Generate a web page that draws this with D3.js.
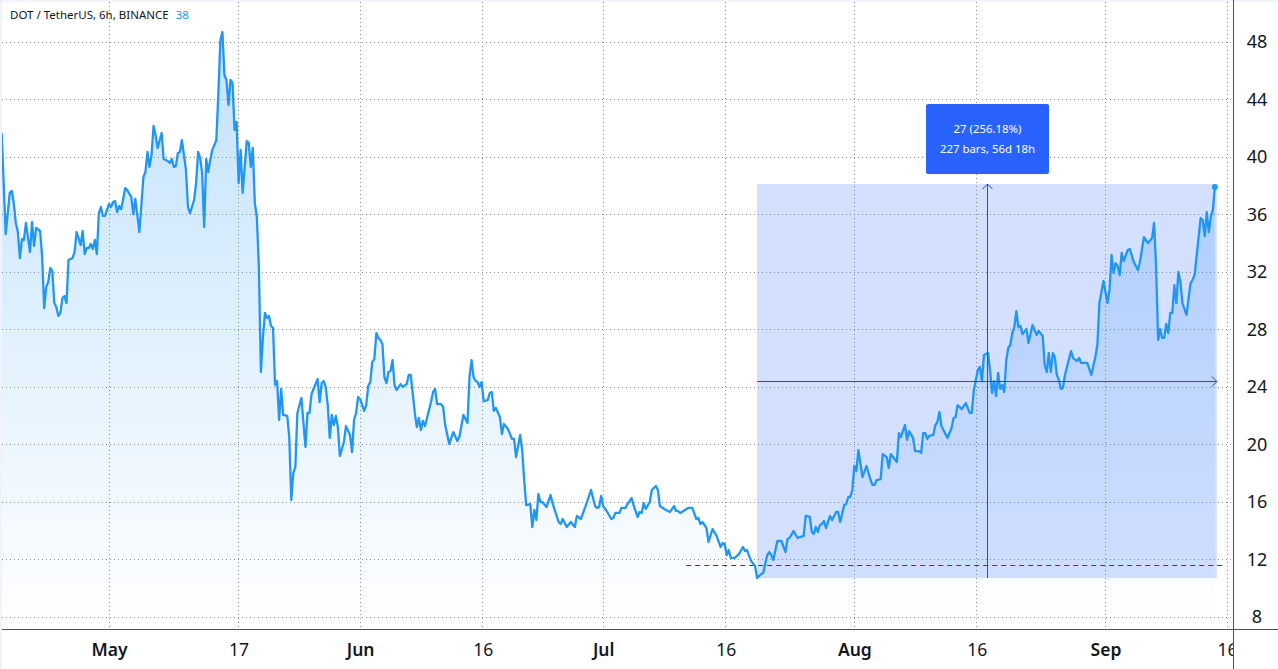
<!DOCTYPE html>
<html>
<head>
<meta charset="utf-8">
<title>DOT / TetherUS</title>
<script src="https://cdn.jsdelivr.net/npm/d3@7"></script>
<style>
    html, body { margin: 0; padding: 0; background: #fff; overflow: hidden; }
    text { font-family: "Noto Sans", sans-serif; fill: #131722; }
</style>
</head>
<body>
<div id="chart"></div>
<script>
// each pair is [bar number, close], one bar is 6h, bar 0 = 17 Apr 18:00
const aprilBars = [[0,41.68],[2,34.65],[4,37.51],[5,37.65],[6,36.81],[7,35.42],[8,34.79],[9,32.98],[10,34.30],[11,34.24],[12,35.42],[14,33.40],[15,35.49],[16,33.82],[17,35.07],[19,34.86],[20,33.05],[21,29.50],[22,30.96],[23,31.31],[24,32.29],[25,32.08],[26,29.85],[27,29.57],[28,28.95],[29,29.16],[30,30.20],[31,30.34],[32,29.85],[33,32.84],[35,32.98],[36,33.40],[37,34.79],[39,33.89],[40,34.86],[41,33.26],[42,33.68],[43,33.68],[44,33.96],[45,33.61],[46,34.24],[47,33.26],[48,36.11],[49,36.53],[50,35.91],[51,35.91]];
const mayBars = [[53,36.74],[54,36.53],[55,36.88],[56,36.95],[57,36.18],[58,36.60],[59,36.39],[60,37.09],[61,37.85],[62,37.71],[64,37.23],[65,36.04],[66,37.09],[68,34.79],[70,38.62],[71,38.97],[72,40.36],[73,39.32],[74,40.15],[75,42.17],[76,41.54],[77,40.64],[79,41.68],[80,39.87],[82,39.73],[83,39.59],[84,39.87],[85,39.32],[86,39.38],[87,40.29],[88,40.36],[89,41.19],[91,39.11],[92,36.53],[93,36.11],[95,37.02],[96,38.20],[97,40.36],[98,39.94],[99,38.90],[100,35.14],[101,39.87],[102,38.97],[103,39.80],[104,40.50],[106,41.19],[107,44.46],[108,48.15],[109,48.71],[110,45.72],[111,45.37],[112,43.63],[113,45.37],[114,45.16],[115,41.89],[116,42.45],[117,38.20],[118,40.50],[119,37.51],[121,41.12],[122,40.99],[123,39.32],[124,40.64],[125,36.81],[126,35.84],[127,32.36],[128,25.05],[129,27.48],[130,29.16],[131,28.81],[132,28.95],[133,28.25],[134,28.11],[135,24.14],[136,24.42],[137,21.71],[138,23.87],[139,22.06],[141,21.99],[142,20.53],[143,16.14],[144,18.02],[145,18.44],[146,22.20],[148,23.24],[150,19.83],[151,22.20],[152,22.20],[153,23.52],[154,23.87],[156,24.56],[157,22.96],[158,24.28],[159,24.42],[160,24.01],[161,22.75],[162,20.46],[163,22.06],[164,21.36],[165,21.99],[166,21.22],[167,19.20],[169,20.18],[170,21.29],[172,20.67],[173,19.48],[174,21.71],[175,22.20],[176,23.31]];
const juneBars = [[177,23.17],[179,22.34],[180,22.75],[181,24.08],[182,24.35],[183,25.75],[184,25.95],[185,27.76],[186,27.42],[187,27.28],[188,27.00],[189,24.70],[190,24.28],[191,25.05],[192,25.12],[193,25.88],[194,24.14],[195,23.80],[197,24.21],[198,24.01],[200,24.21],[201,24.84],[202,24.84],[204,22.20],[205,21.22],[206,21.85],[207,21.01],[208,21.64],[209,21.29],[212,22.96],[213,23.66],[214,23.87],[215,22.82],[217,22.82],[218,22.61],[219,21.36],[221,20.04],[223,20.87],[225,20.25],[226,20.53],[228,22.06],[230,21.50],[231,24.70],[232,25.88],[233,24.70],[234,24.42],[235,24.35],[236,24.01],[237,24.35],[238,23.03],[240,23.10],[241,23.59],[242,23.66],[243,22.34],[244,22.54],[246,21.92],[247,20.73],[248,21.43],[250,21.08],[252,20.39],[253,20.39],[254,19.13],[256,20.67],[257,19.62],[258,17.53],[259,15.79],[261,15.86],[262,14.26],[263,15.45],[264,14.75],[265,16.56],[266,16.00],[267,16.00],[269,15.65],[271,16.49],[272,15.93],[275,14.61],[276,14.47],[277,14.82],[279,14.26],[281,14.61],[283,14.26],[284,15.03],[286,14.82],[289,16.00],[291,16.84],[293,15.72],[294,15.59],[295,15.65],[296,16.42]];
const julyBars = [[297,15.72],[299,15.31],[301,14.82],[302,14.89],[303,15.24],[305,15.24],[306,15.59],[308,15.59],[309,15.86],[311,16.28],[312,15.79],[314,14.96],[315,15.31],[316,15.24],[317,15.93],[318,15.52],[320,16.00],[321,16.84],[322,16.98],[323,17.12],[324,16.84],[325,15.72],[328,15.45],[330,15.31],[332,15.72],[333,15.38],[334,15.38],[335,15.24],[339,15.59],[341,15.59],[343,14.82],[344,14.89],[345,14.47],[346,14.61],[348,14.19],[349,13.22],[351,14.12],[353,13.64],[355,12.87],[356,13.15],[357,13.08],[358,12.31],[359,12.66],[360,12.11],[362,12.11],[364,12.38],[366,12.87],[367,12.59],[368,12.66],[370,11.90],[372,11.55],[373,10.71],[375,10.99],[376,11.06],[378,12.31],[379,12.52],[380,12.31],[381,11.97],[383,13.29],[385,13.29],[387,12.52],[388,13.43],[389,13.50],[391,13.98],[393,13.50],[396,13.64],[397,15.03],[399,14.96],[400,13.92],[401,13.78],[402,14.26],[403,13.92],[404,14.40],[405,14.47],[406,14.68],[407,14.19],[409,15.03],[410,14.75],[412,15.31],[413,15.31],[414,14.61],[416,15.79],[417,15.86],[418,16.35],[419,16.35],[420,16.84]];
const augustBars = [[421,18.51],[422,18.16],[423,19.62],[425,17.74],[427,18.51],[429,17.53],[430,17.19],[431,17.19],[432,17.53],[434,17.60],[435,19.34],[437,19.13],[438,18.37],[439,19.34],[442,18.79],[443,20.80],[444,20.53],[446,21.36],[447,20.32],[448,20.94],[450,20.46],[451,19.55],[453,19.55],[454,19.41],[455,20.80],[456,20.80],[457,20.39],[458,20.60],[460,20.67],[461,21.36],[462,21.57],[463,22.27],[464,21.29],[467,20.46],[469,21.15],[470,21.85],[471,21.92],[472,22.75],[474,22.47],[476,22.89],[478,22.20],[479,22.20],[480,23.80],[482,25.19],[483,25.40],[484,24.42],[485,26.23],[487,26.37],[488,25.19],[489,23.59],[490,24.42],[491,23.38],[492,24.98],[493,23.87],[494,24.14],[495,23.66],[496,25.85],[497,26.72],[498,26.93],[499,27.76],[500,28.18],[501,29.29],[502,28.18],[503,28.25],[504,27.69],[506,28.04],[507,27.07],[509,28.32],[511,27.62],[512,27.90],[514,27.55],[515,25.54],[516,25.05],[517,26.37],[518,25.05],[519,26.37],[520,26.09],[521,24.84],[522,24.49],[523,23.87],[524,23.94],[525,24.84],[526,25.40],[528,26.51],[529,26.02],[531,25.81],[532,26.02],[533,25.68],[536,25.68],[538,24.84],[540,26.09],[541,26.93],[542,29.85],[544,31.38]];
const septemberBars = [[546,29.85],[547,30.76],[548,33.19],[549,31.94],[550,32.63],[551,32.43],[552,31.80],[553,33.33],[554,32.77],[556,33.54],[557,33.61],[559,32.70],[561,32.15],[562,32.70],[564,34.44],[566,34.03],[568,34.37],[569,35.42],[570,32.36],[571,27.28],[572,28.04],[573,27.42],[574,27.42],[575,28.39],[576,27.76],[577,29.16],[578,29.16],[579,31.10],[580,29.85],[581,32.01],[582,31.31],[583,29.85],[585,29.02],[587,31.24],[588,31.45],[589,31.80],[592,35.77],[593,35.63],[594,34.51],[595,36.18],[596,34.79],[597,35.84],[598,36.32],[599,37.92]];

const priceTicks = [8, 12, 16, 20, 24, 28, 32, 36, 40, 44, 48];
// the mid month ticks sit a little after midnight on the reference
const timeTicks = ['2021-05-01T00:00Z', '2021-05-17T00:00Z', '2021-06-01T00:00Z', '2021-06-16T03:00Z', '2021-07-01T00:00Z', '2021-07-16T03:00Z', '2021-08-01T00:00Z', '2021-08-16T03:00Z', '2021-09-01T00:00Z', '2021-09-16T00:00Z'];
const timeLabels = ['May', '17', 'Jun', '16', 'Jul', '16', 'Aug', '16', 'Sep', '16'];

// measure tool
const measureBars = [373, 600];
const measurePrices = [10.71, 38.13];
const measureMidPrice = 24.42;
const measureLines = ['27 (256.18%)', '227 bars, 56d 18h'];
const dashedPrice = 11.55;
const dashedBars = [338, 604];

const width = 1278, height = 669, axisX = 1233, axisY = 629;
const blue = '#2196f3', toolBlue = '#2962ff';

const barTime = (n) => new Date(Date.UTC(2021, 3, 17, 18) + n * 6 * 3600 * 1000);
const data = [].concat(aprilBars, mayBars, juneBars, julyBars, augustBars, septemberBars);

const x = d3.scaleUtc().domain([new Date(timeTicks[0]), new Date(timeTicks[9])]).range([109, 1227]);
const y = d3.scaleLinear().domain([8, 48]).range([617, 42.2]);
const px = (n) => x(barTime(n));
const crisp = (v) => Math.floor(v) + 0.5;

const svg = d3.select('#chart').append('svg').attr('width', width).attr('height', height).style('display', 'block');
const defs = svg.append('defs');
let grad = defs.append('linearGradient').attr('id', 'areaFill').attr('gradientUnits', 'userSpaceOnUse')
    .attr('x1', 0).attr('x2', 0).attr('y1', 30).attr('y2', axisY);
grad.append('stop').attr('offset', 0).attr('stop-color', blue).attr('stop-opacity', 0.28);
grad.append('stop').attr('offset', 1).attr('stop-color', blue).attr('stop-opacity', 0);
defs.append('clipPath').attr('id', 'plotClip').append('rect').attr('x', 2).attr('y', 2).attr('width', axisX - 2).attr('height', axisY - 2);

// outer frame colour of the widget
svg.append('rect').attr('width', width).attr('height', 2).attr('fill', '#f0f3fa');
svg.append('rect').attr('width', 2).attr('height', height).attr('fill', '#f0f3fa');

const grid = svg.append('g').attr('stroke', '#787b86').attr('stroke-width', 1).attr('stroke-dasharray', '1,3').attr('opacity', 0.85);
grid.selectAll('.h').data(priceTicks).enter().append('line').attr('class', 'h')
    .attr('x1', 2).attr('x2', axisX)
    .attr('y1', (d) => crisp(y(d))).attr('y2', (d) => crisp(y(d)));
grid.selectAll('.v').data(timeTicks).enter().append('line').attr('class', 'v')
    .attr('y1', 2).attr('y2', axisY)
    .attr('x1', (d) => crisp(x(new Date(d)))).attr('x2', (d) => crisp(x(new Date(d))));

const plot = svg.append('g').attr('clip-path', 'url(#plotClip)');
plot.append('path').datum(data)
    .attr('fill', 'url(#areaFill)')
    .attr('d', d3.area().x((d) => px(d[0])).y0(axisY).y1((d) => y(d[1])));

// measure box sits above the area, line goes above the box
plot.append('rect')
    .attr('x', px(measureBars[0])).attr('width', px(measureBars[1]) - px(measureBars[0]))
    .attr('y', y(measurePrices[1])).attr('height', y(measurePrices[0]) - y(measurePrices[1]))
    .attr('fill', toolBlue).attr('fill-opacity', 0.2);

plot.append('line')
    .attr('x1', px(dashedBars[0])).attr('x2', px(dashedBars[1]))
    .attr('y1', crisp(y(dashedPrice))).attr('y2', crisp(y(dashedPrice)))
    .attr('stroke', '#0a6130').attr('stroke-width', 1).attr('stroke-dasharray', '5,4');

plot.append('path').datum(data)
    .attr('fill', 'none').attr('stroke', blue).attr('stroke-width', 2.3).attr('stroke-linejoin', 'round')
    .attr('d', d3.line().x((d) => px(d[0])).y((d) => y(d[1])));

const last = data[data.length - 1];
plot.append('circle').attr('cx', px(last[0])).attr('cy', y(last[1])).attr('r', 3).attr('fill', blue);

// measure arrows
const arrows = plot.append('g').attr('stroke', '#1f4fd8').attr('stroke-width', 1).attr('fill', 'none');
let midX = crisp(px((measureBars[0] + measureBars[1]) / 2) + 0.5), midY = crisp(y(measureMidPrice));
let topY = y(measurePrices[1]), endX = px(measureBars[1]);
arrows.append('line').attr('x1', midX).attr('x2', midX).attr('y1', topY).attr('y2', y(measurePrices[0]));
arrows.append('line').attr('x1', px(measureBars[0])).attr('x2', endX).attr('y1', midY).attr('y2', midY);
arrows.append('path').attr('d', d3.line()([[midX - 5, topY + 5], [midX, topY], [midX + 5, topY + 5]]));
arrows.append('path').attr('d', d3.line()([[endX - 5, midY - 5], [endX, midY], [endX - 5, midY + 5]]));

// measure label
const labelW = 123, labelH = 70;
const label = svg.append('g').attr('transform', 'translate(' + (midX - labelW / 2) + ',' + (topY - 10 - labelH) + ')');
label.append('rect').attr('width', labelW).attr('height', labelH).attr('rx', 2).attr('fill', toolBlue);
label.selectAll('text').data(measureLines).enter().append('text')
    .attr('x', labelW / 2).attr('y', (d, i) => 29 + i * 20)
    .attr('text-anchor', 'middle').style('fill', '#fff').style('font-size', '11.4px')
    .text((d) => d);

// axes
const xAxis = d3.axisBottom(x).tickValues(timeTicks.map((d) => new Date(d)))
    .tickSize(0).tickPadding(0).tickFormat((d, i) => timeLabels[i]);
const timeG = svg.append('g').attr('transform', 'translate(0,' + axisY + ')').call(xAxis);
timeG.select('.domain').remove();
timeG.selectAll('text').attr('y', 27).attr('dy', 0)
    .style('font-size', '17.5px').style('font-family', '"Noto Sans", sans-serif')
    .style('font-weight', (d, i) => isNaN(+timeLabels[i]) ? 600 : 400);
svg.append('rect').attr('x', axisX).attr('y', axisY).attr('width', width - axisX).attr('height', height - axisY).attr('fill', '#fff');

const yAxis = d3.axisRight(y).tickValues(priceTicks).tickSize(0).tickPadding(0);
const priceG = svg.append('g').attr('transform', 'translate(' + axisX + ',0)').call(yAxis);
priceG.select('.domain').remove();
priceG.selectAll('text').attr('x', 24)
    .attr('text-anchor', 'middle')
    .style('font-size', '18px').style('font-family', '"Noto Sans", sans-serif');

svg.append('line').attr('x1', 2).attr('x2', width).attr('y1', axisY + 0.5).attr('y2', axisY + 0.5).attr('stroke', '#50535e');
svg.append('line').attr('x1', axisX + 0.5).attr('x2', axisX + 0.5).attr('y1', 0).attr('y2', height).attr('stroke', '#50535e');

// legend
const legend = svg.append('text').attr('x', 10).attr('y', 19).style('font-size', '11.5px');
legend.append('tspan').text('DOT / TetherUS, 6h, BINANCE');
legend.append('tspan').attr('dx', 7).style('fill', blue).text('38');
</script>
</body>
</html>
